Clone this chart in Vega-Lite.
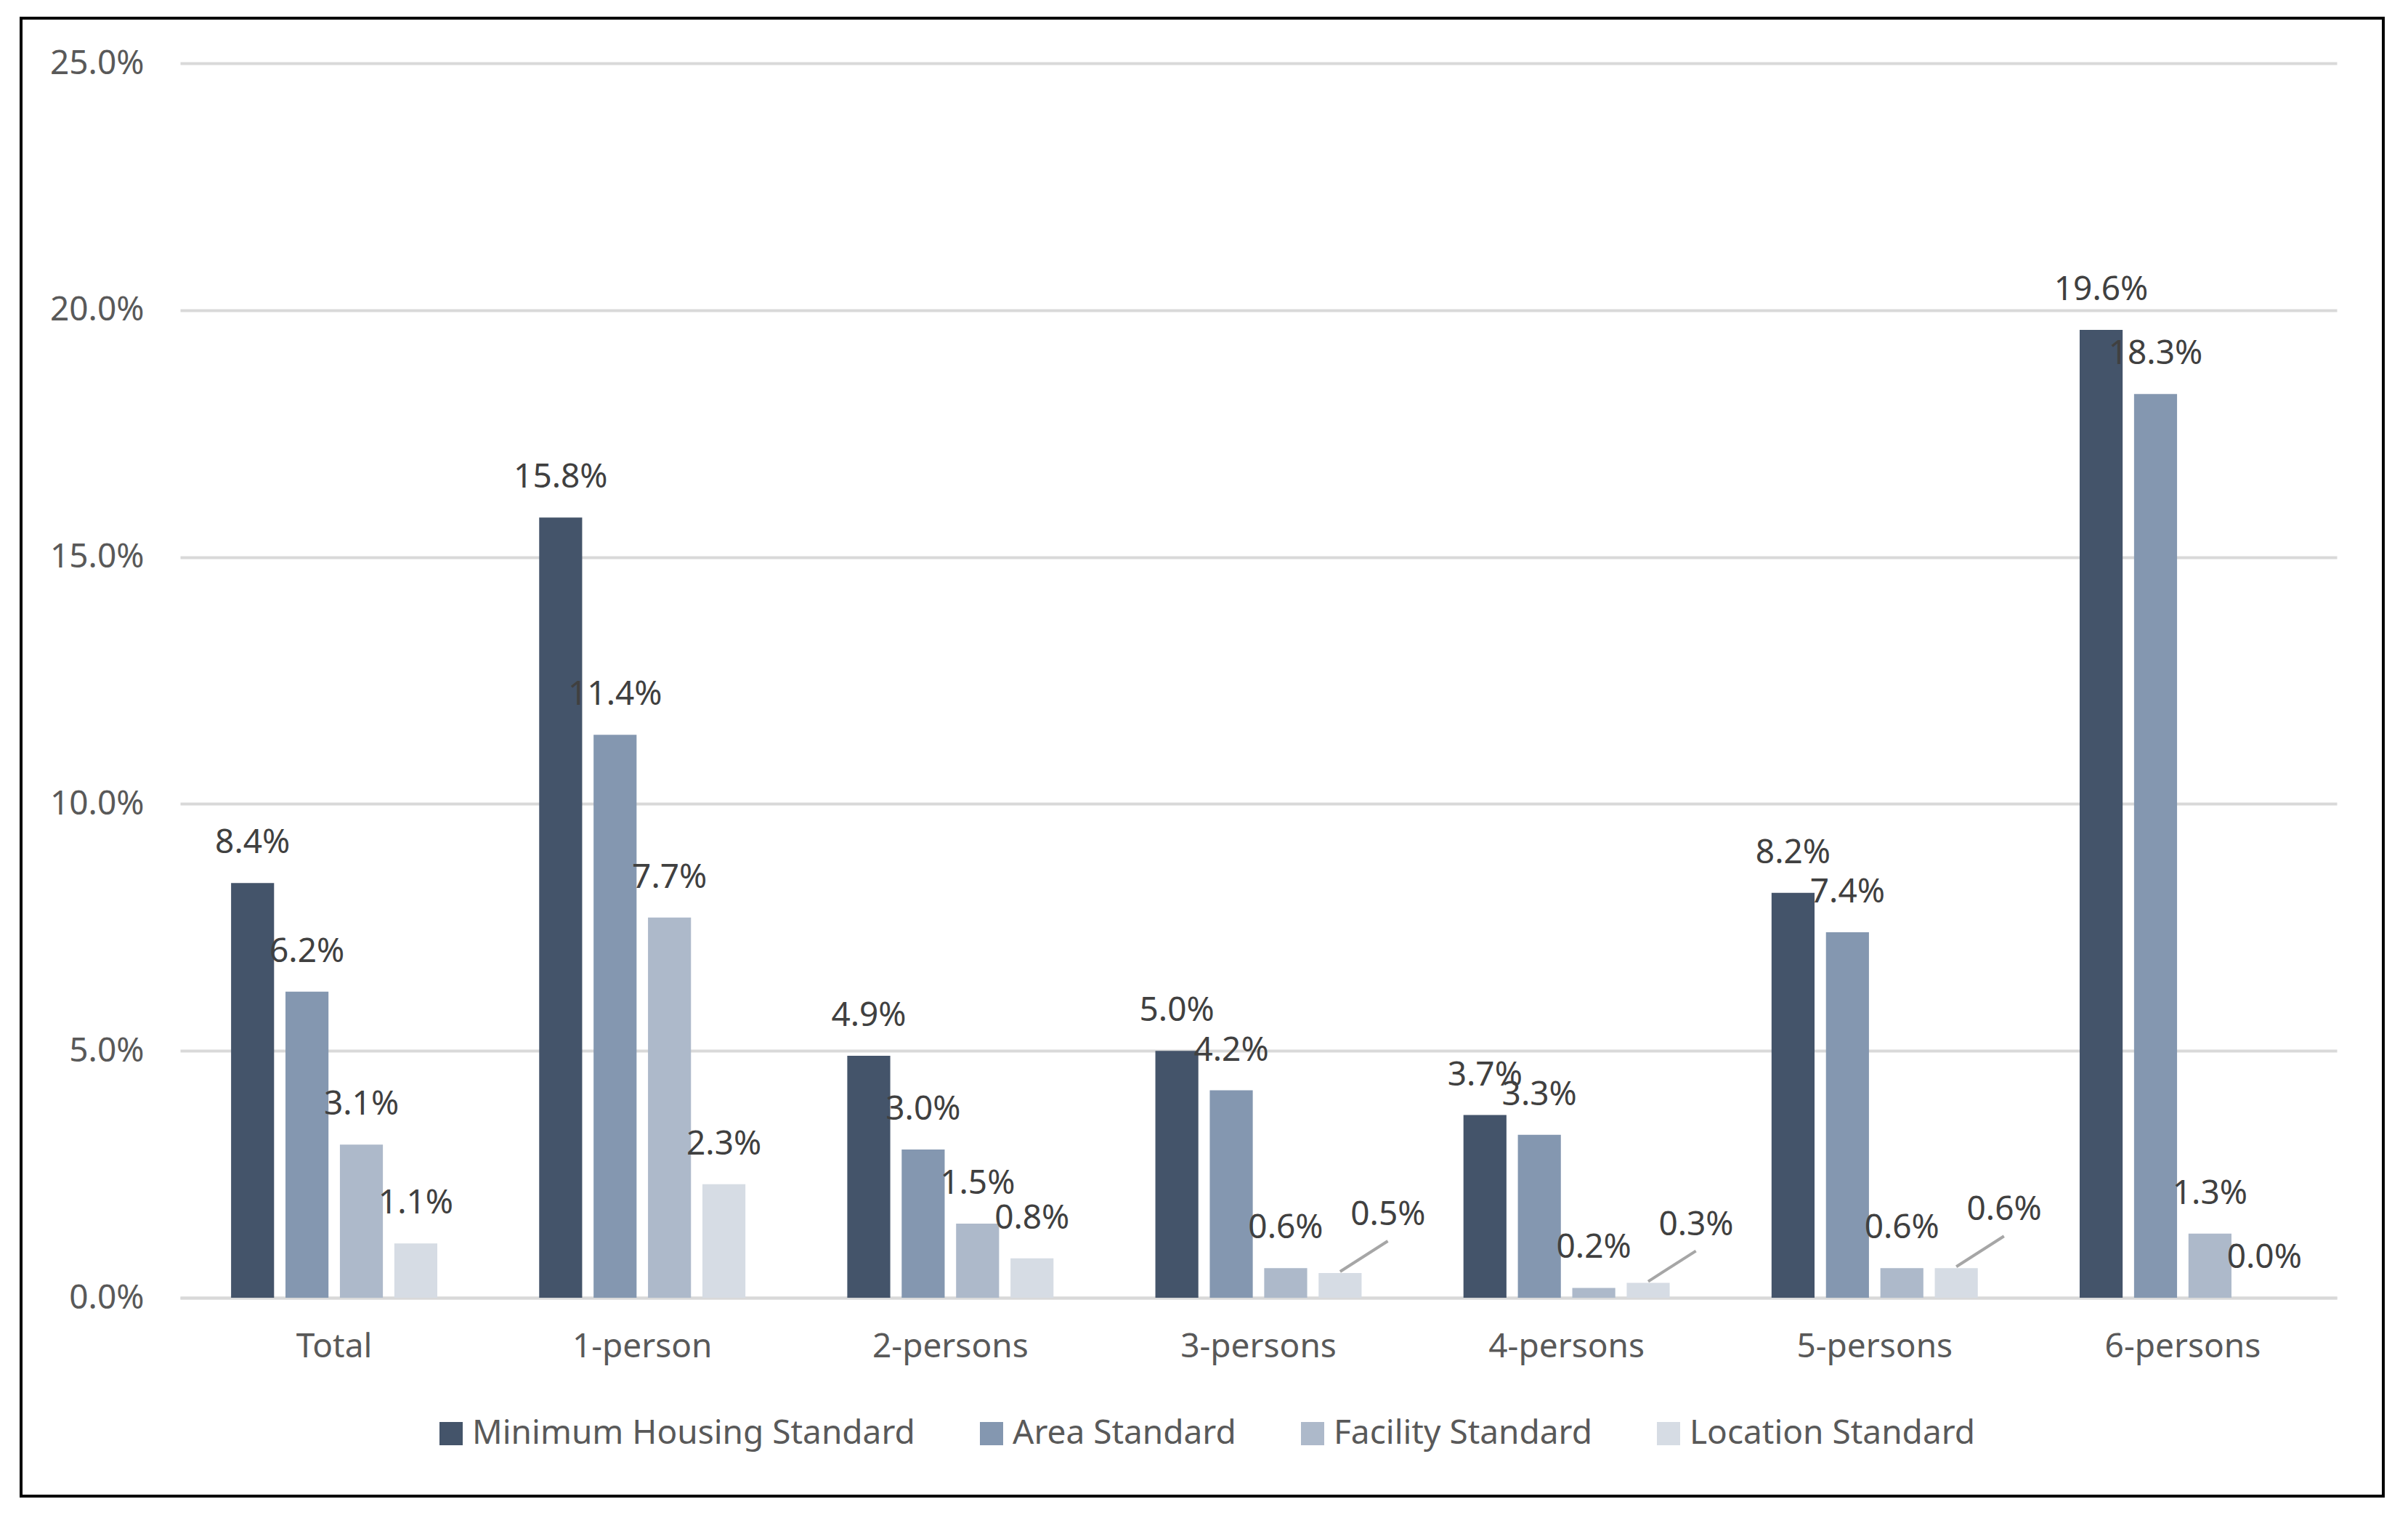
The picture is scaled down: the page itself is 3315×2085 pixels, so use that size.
{
  "$schema": "https://vega.github.io/schema/vega-lite/v6.json",
  "width": 3252,
  "height": 2034,
  "autosize": {"type": "none"},
  "padding": {"left": 29, "top": 25, "right": 34, "bottom": 26},
  "background": "#ffffff",
  "config": {
    "view": {"stroke": "#000000", "strokeWidth": 4},
    "font": "Noto Sans",
    "text": {"font": "Noto Sans"}
  },
  "data": {
    "values": [
      {"category": "Total", "series": "Minimum Housing Standard", "value": 0.084},
      {"category": "Total", "series": "Area Standard", "value": 0.062},
      {"category": "Total", "series": "Facility Standard", "value": 0.031},
      {"category": "Total", "series": "Location Standard", "value": 0.011},
      {"category": "1-person", "series": "Minimum Housing Standard", "value": 0.158},
      {"category": "1-person", "series": "Area Standard", "value": 0.114},
      {"category": "1-person", "series": "Facility Standard", "value": 0.077},
      {"category": "1-person", "series": "Location Standard", "value": 0.023},
      {"category": "2-persons", "series": "Minimum Housing Standard", "value": 0.049},
      {"category": "2-persons", "series": "Area Standard", "value": 0.030},
      {"category": "2-persons", "series": "Facility Standard", "value": 0.015},
      {"category": "2-persons", "series": "Location Standard", "value": 0.008},
      {"category": "3-persons", "series": "Minimum Housing Standard", "value": 0.050},
      {"category": "3-persons", "series": "Area Standard", "value": 0.042},
      {"category": "3-persons", "series": "Facility Standard", "value": 0.006},
      {"category": "3-persons", "series": "Location Standard", "value": 0.005},
      {"category": "4-persons", "series": "Minimum Housing Standard", "value": 0.037},
      {"category": "4-persons", "series": "Area Standard", "value": 0.033},
      {"category": "4-persons", "series": "Facility Standard", "value": 0.002},
      {"category": "4-persons", "series": "Location Standard", "value": 0.003},
      {"category": "5-persons", "series": "Minimum Housing Standard", "value": 0.082},
      {"category": "5-persons", "series": "Area Standard", "value": 0.074},
      {"category": "5-persons", "series": "Facility Standard", "value": 0.006},
      {"category": "5-persons", "series": "Location Standard", "value": 0.006},
      {"category": "6-persons", "series": "Minimum Housing Standard", "value": 0.196},
      {"category": "6-persons", "series": "Area Standard", "value": 0.183},
      {"category": "6-persons", "series": "Facility Standard", "value": 0.013},
      {"category": "6-persons", "series": "Location Standard", "value": 0.0}
    ]
  },
  "encoding": {
    "x": {
      "field": "category",
      "type": "nominal",
      "sort": ["Total", "1-person", "2-persons", "3-persons", "4-persons", "5-persons", "6-persons"],
      "scale": {"range": [219, 3188], "paddingInner": 0, "paddingOuter": 0},
      "axis": {
        "title": null,
        "orient": "bottom",
        "offset": -273,
        "domain": true,
        "domainColor": "#D9D9D9",
        "domainWidth": 4,
        "ticks": false,
        "tickSize": 0,
        "grid": false,
        "labelAngle": 0,
        "labelPadding": 45,
        "labelLimit": 0,
        "labelFont": "Noto Sans",
        "labelFontSize": 46,
        "labelColor": "#595959"
      }
    },
    "xOffset": {
      "field": "series",
      "type": "nominal",
      "sort": ["Minimum Housing Standard", "Area Standard", "Facility Standard", "Location Standard"],
      "scale": {"paddingInner": 0.21, "paddingOuter": 0.936}
    },
    "y": {
      "field": "value",
      "type": "quantitative",
      "scale": {"domain": [0, 0.25], "range": [1761, 62], "nice": false, "zero": true},
      "axis": {
        "title": null,
        "offset": -219,
        "values": [0, 0.05, 0.1, 0.15, 0.2, 0.25],
        "format": ".1%",
        "domain": false,
        "ticks": false,
        "tickSize": 0,
        "grid": true,
        "gridColor": "#D9D9D9",
        "gridWidth": 4,
        "labelPadding": 50,
        "labelFont": "Noto Sans",
        "labelFontSize": 46,
        "labelColor": "#595959"
      }
    }
  },
  "layer": [
    {
      "mark": {"type": "bar"},
      "encoding": {
        "color": {
          "field": "series",
          "type": "nominal",
          "scale": {
            "domain": ["Minimum Housing Standard", "Area Standard", "Facility Standard", "Location Standard"],
            "range": ["#44546A", "#8497B0", "#ADB9CA", "#D6DCE4"]
          },
          "legend": {
            "title": null,
            "orient": "none",
            "direction": "horizontal",
            "legendX": 569,
            "legendY": 1925,
            "padding": 0,
            "symbolType": "square",
            "symbolSize": 1024,
            "symbolStrokeWidth": 0,
            "symbolOpacity": 1,
            "labelFont": "Noto Sans",
            "labelFontSize": 46,
            "labelColor": "#595959",
            "labelOffset": 6,
            "labelLimit": 0,
            "columnPadding": 82
          }
        }
      }
    },
    {
      "transform": [{"filter": "!(datum.series == 'Location Standard' && indexof(['3-persons','4-persons','5-persons'], datum.category) >= 0)"}],
      "mark": {"type": "text", "dy": -41, "baseline": "alphabetic", "align": "center", "font": "Noto Sans", "fontSize": 46, "color": "#404040"},
      "encoding": {"text": {"field": "value", "type": "quantitative", "format": ".1%"}}
    },
    {
      "transform": [{"filter": "datum.series == 'Location Standard' && indexof(['3-persons','4-persons','5-persons'], datum.category) >= 0"}],
      "mark": {"type": "text", "dx": 66, "dy": -66, "baseline": "alphabetic", "align": "center", "font": "Noto Sans", "fontSize": 46, "color": "#404040"},
      "encoding": {"text": {"field": "value", "type": "quantitative", "format": ".1%"}}
    },
    {
      "transform": [{"filter": "datum.series == 'Location Standard' && indexof(['3-persons','4-persons','5-persons'], datum.category) >= 0"}],
      "mark": {"type": "rule", "color": "#A6A6A6", "strokeWidth": 4, "yOffset": -2, "x2Offset": 178, "y2Offset": -44},
      "encoding": {
        "x2": {"field": "category"},
        "y2": {"field": "value"}
      }
    }
  ]
}
